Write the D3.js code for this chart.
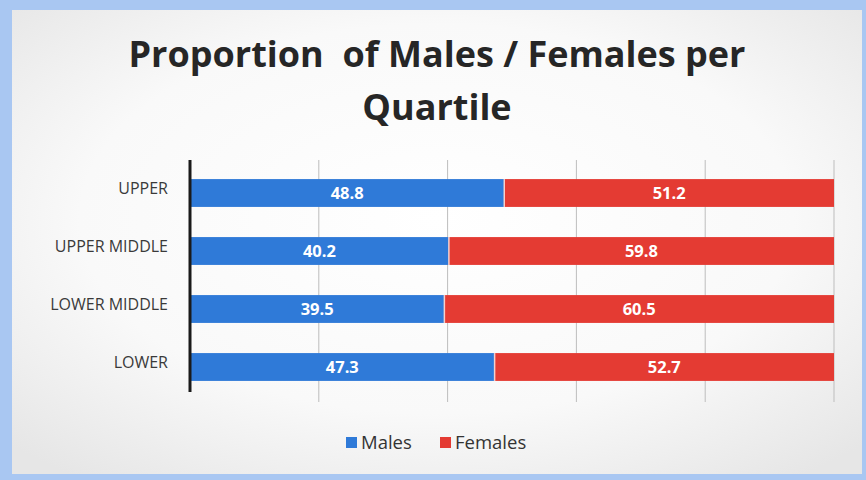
<!DOCTYPE html>
<html>
<head>
<meta charset="utf-8">
<script src="https://cdn.jsdelivr.net/npm/d3@7"></script>
<style>
  html, body { margin: 0; padding: 0; background: #a9c7f2; }
  svg { display: block; }
  text { font-family: "Open Sans", "Noto Sans", sans-serif; }
</style>
</head>
<body>
<svg id="chart" width="866" height="480"></svg>
<script>
// values
const quartiles = ["UPPER", "UPPER MIDDLE", "LOWER MIDDLE", "LOWER"];
const males = [48.8, 40.2, 39.5, 47.3];
const females = [51.2, 59.8, 60.5, 52.7];
const seriesNames = ["Males", "Females"];
const seriesColors = ["#2f7ad8", "#e43b33"];
const xTicks = [0, 20, 40, 60, 80, 100];

const W = 866, H = 480;
const margin = { top: 160, left: 190, right: 32, bottom: 88 };

const svg = d3.select("#chart");

// panel (the screen in the photo)
const defs = svg.append("defs");
const grad = defs.append("radialGradient").attr("id", "panelBg")
  .attr("cx", "50%").attr("cy", "45%").attr("r", "70%");
grad.append("stop").attr("offset", "0%").attr("stop-color", "#ffffff");
grad.append("stop").attr("offset", "60%").attr("stop-color", "#f9f9f9");
grad.append("stop").attr("offset", "100%").attr("stop-color", "#e6e6e6");

svg.append("rect").attr("width", W).attr("height", H).attr("fill", "#a9c7f2");
svg.append("rect")
  .attr("x", 12).attr("y", 10).attr("width", 850).attr("height", 464)
  .attr("fill", "url(#panelBg)");

// title
const title = svg.append("text")
  .attr("text-anchor", "middle")
  .attr("font-weight", "bold")
  .attr("font-size", 36)
  .attr("fill", "#262626");
title.append("tspan").attr("x", 437).attr("y", 67).attr("xml:space", "preserve")
  .text("Proportion  of Males / Females per");
title.append("tspan").attr("x", 437).attr("y", 120).text("Quartile");

const x = d3.scaleLinear().domain([0, 100])
  .range([margin.left, W - margin.right]);
const y = d3.scaleBand().domain(quartiles)
  .range([margin.top + 4, H - margin.bottom + 4])
  .paddingInner(0.52).paddingOuter(0.26);

// vertical gridlines
svg.append("g")
  .selectAll("line")
  .data(xTicks.slice(1))
  .join("line")
  .attr("x1", d => x(d)).attr("x2", d => x(d))
  .attr("y1", margin.top).attr("y2", H - margin.bottom + 10)
  .attr("stroke", "#bdbdbd").attr("stroke-width", 1);

// stacked bars
const rows = quartiles.map((q, i) => ({ q, Males: males[i], Females: females[i] }));
const stack = d3.stack().keys(seriesNames)(rows);

const layers = svg.append("g").selectAll("g")
  .data(stack)
  .join("g")
  .attr("fill", (d, i) => seriesColors[i]);

layers.selectAll("rect")
  .data(d => d)
  .join("rect")
  .attr("x", d => x(d[0]))
  .attr("y", d => y(d.data.q))
  .attr("width", d => x(d[1]) - x(d[0]))
  .attr("height", y.bandwidth());

// white divider between segments
svg.append("g").selectAll("line")
  .data(rows)
  .join("line")
  .attr("x1", d => x(d.Males)).attr("x2", d => x(d.Males))
  .attr("y1", d => y(d.q)).attr("y2", d => y(d.q) + y.bandwidth())
  .attr("stroke", "#f4d0cc").attr("stroke-width", 1.5);

// value labels
layers.selectAll("text")
  .data(d => d)
  .join("text")
  .attr("x", d => (x(d[0]) + x(d[1])) / 2)
  .attr("y", d => y(d.data.q) + y.bandwidth() / 2)
  .attr("dy", "0.36em")
  .attr("text-anchor", "middle")
  .attr("font-weight", "bold")
  .attr("font-size", 16.5)
  .attr("fill", "#ffffff")
  .text(d => (d[1] - d[0]).toFixed(1));

// category axis
const yAxis = svg.append("g")
  .attr("transform", `translate(${margin.left},-4)`)
  .call(d3.axisLeft(y).tickSize(0).tickPadding(22));
yAxis.select(".domain").remove();
yAxis.selectAll("text")
  .attr("font-size", 16)
  .attr("fill", "#3a3a3a")
  .style("font-family", '"Open Sans", "Noto Sans", sans-serif');

svg.append("line")
  .attr("x1", margin.left).attr("x2", margin.left)
  .attr("y1", margin.top).attr("y2", H - margin.bottom)
  .attr("stroke", "#1a1a1a").attr("stroke-width", 3);

// legend
const legend = svg.append("g").attr("transform", "translate(346,443)");
const items = [{ name: "Males", dx: 0 }, { name: "Females", dx: 94 }];
items.forEach((it, i) => {
  const g = legend.append("g").attr("transform", `translate(${it.dx},0)`);
  g.append("rect").attr("x", 0).attr("y", -6).attr("width", 11).attr("height", 11)
    .attr("fill", seriesColors[i]);
  g.append("text").attr("x", 15).attr("y", 0).attr("dy", "0.35em")
    .attr("font-size", 18.5).attr("fill", "#333333").text(it.name);
});
</script>
</body>
</html>
